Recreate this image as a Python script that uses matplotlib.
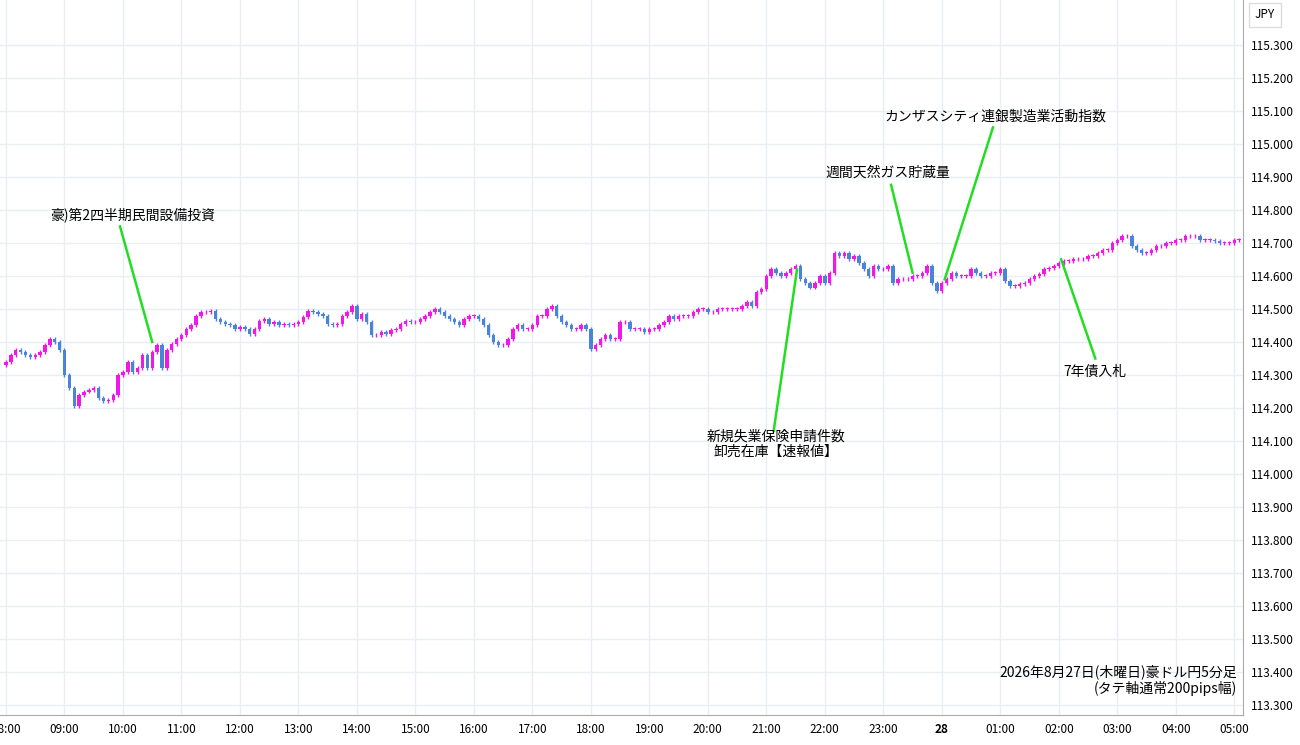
import matplotlib.pyplot as plt
import numpy as np

plt.rcParams['font.family'] = ['Noto Sans CJK JP', 'DejaVu Sans']

# 5-minute closes, 12 per hour, starting 08:00
closes = [
    114.34, 114.36, 114.375, 114.37, 114.36, 114.355, 114.36, 114.37, 114.39, 114.41, 114.40, 114.375,   # 08
    114.30, 114.26, 114.205, 114.24, 114.25, 114.255, 114.26, 114.23, 114.22, 114.225, 114.24, 114.30,   # 09
    114.31, 114.34, 114.31, 114.32, 114.36, 114.32, 114.37, 114.39, 114.32, 114.375, 114.395, 114.41,    # 10
    114.42, 114.44, 114.45, 114.48, 114.49, 114.49, 114.495, 114.47, 114.46, 114.455, 114.45, 114.44,    # 11
    114.445, 114.44, 114.425, 114.44, 114.465, 114.47, 114.455, 114.46, 114.45, 114.455, 114.45, 114.455,  # 12
    114.46, 114.475, 114.495, 114.49, 114.485, 114.48, 114.455, 114.45, 114.455, 114.48, 114.49, 114.51,   # 13
    114.47, 114.485, 114.46, 114.42, 114.42, 114.43, 114.425, 114.435, 114.44, 114.455, 114.465, 114.46,   # 14
    114.46, 114.47, 114.48, 114.49, 114.50, 114.49, 114.48, 114.47, 114.46, 114.45, 114.47, 114.48,       # 15
    114.48, 114.47, 114.45, 114.42, 114.40, 114.39, 114.39, 114.41, 114.44, 114.45, 114.44, 114.44,       # 16
    114.45, 114.48, 114.48, 114.50, 114.51, 114.48, 114.46, 114.45, 114.44, 114.44, 114.45, 114.44,       # 17
    114.38, 114.39, 114.41, 114.42, 114.41, 114.41, 114.46, 114.46, 114.44, 114.44, 114.44, 114.43,       # 18
    114.44, 114.44, 114.45, 114.46, 114.48, 114.47, 114.48, 114.48, 114.48, 114.49, 114.50, 114.50,       # 19
    114.49, 114.49, 114.50, 114.50, 114.50, 114.50, 114.50, 114.51, 114.52, 114.51, 114.55, 114.56,       # 20
    114.60, 114.62, 114.61, 114.60, 114.61, 114.62, 114.63, 114.59, 114.58, 114.565, 114.58, 114.60,      # 21
    114.58, 114.61, 114.67, 114.66, 114.67, 114.65, 114.66, 114.64, 114.62, 114.60, 114.63, 114.62,       # 22
    114.62, 114.63, 114.58, 114.59, 114.59, 114.59, 114.60, 114.60, 114.61, 114.63, 114.58, 114.555,      # 23
    114.58, 114.59, 114.61, 114.60, 114.60, 114.60, 114.62, 114.61, 114.60, 114.60, 114.61, 114.61,       # 00
    114.62, 114.585, 114.57, 114.57, 114.575, 114.58, 114.59, 114.60, 114.605, 114.62, 114.625, 114.63,   # 01
    114.64, 114.645, 114.645, 114.65, 114.65, 114.65, 114.66, 114.66, 114.67, 114.68, 114.68, 114.70,     # 02
    114.71, 114.72, 114.72, 114.69, 114.68, 114.67, 114.67, 114.68, 114.69, 114.69, 114.70, 114.70,       # 03
    114.71, 114.71, 114.72, 114.72, 114.72, 114.71, 114.71, 114.71, 114.705, 114.70, 114.70, 114.70,      # 04
    114.71, 114.71,                                                                                       # 05
]
first_open = 114.33
hour_labels = ['08:00', '09:00', '10:00', '11:00', '12:00', '13:00', '14:00', '15:00', '16:00',
               '17:00', '18:00', '19:00', '20:00', '21:00', '22:00', '23:00', '28', '01:00',
               '02:00', '03:00', '04:00', '05:00']
y_ticks = [113.3 + 0.1 * k for k in range(21)]

# events: (label, text x/y, line start, candle end) in (candle index, price)
events = [
    ('豪)第2四半期民間設備投資', (26.0, 114.785), (23.4, 114.75), (30.0, 114.40)),
    ('新規失業保険申請件数\n卸売在庫【速報値】', (158.0, 114.09), (157.5, 114.13), (162.3, 114.62)),
    ('週間天然ガス貯蔵量', (181.0, 114.912), (181.6, 114.876), (186.0, 114.61)),
    ('カンザスシティ連銀製造業活動指数', (203.0, 115.082), (202.5, 115.05), (192.6, 114.59)),
    ('7年債入札', (223.5, 114.31), (223.5, 114.35), (216.5, 114.65)),
]

UP = '#f018e8'
DOWN = '#4a84d8'
WICK = 0.006

fig = plt.figure(figsize=(13, 7.45), dpi=100)
ax = fig.add_axes([0, 30 / 745, 1243 / 1300, 715 / 745])

opens = [first_open] + closes[:-1]
for i, (o, c) in enumerate(zip(opens, closes)):
    col = UP if c >= o else DOWN
    lo, hi = min(o, c), max(o, c)
    ax.vlines(i, lo - WICK, hi + WICK, color=col, lw=1.0, zorder=3)
    ax.bar(i, max(hi - lo, 0.002), bottom=lo, width=0.7, color=col, zorder=4)

for label, txt, p0, p1 in events:
    ax.plot([p0[0], p1[0]], [p0[1], p1[1]], color='#22dd22', lw=1.8, zorder=5)
    ax.text(txt[0], txt[1], label, fontsize=10, ha='center', va='center', zorder=6,
            linespacing=1.15)

ax.set_xlim(-1.23, 253.8)
ax.set_ylim(113.270, 115.436)
ax.set_xticks(np.arange(len(hour_labels)) * 12)
ax.set_xticklabels(hour_labels, fontsize=8.5)
for t in ax.get_xticklabels():
    if t.get_text() == '28':
        t.set_fontweight('bold')
ax.set_yticks(y_ticks)
ax.set_yticklabels([f'{v:.3f}' for v in y_ticks], fontsize=8.5)
ax.yaxis.tick_right()
ax.tick_params(length=0, pad=6)
ax.grid(color='#e8eef3', lw=1)
for s in ['top', 'left']:
    ax.spines[s].set_visible(False)
ax.spines['right'].set_color('#aaaaaa')
ax.spines['bottom'].set_color('#aaaaaa')

fig.text(1265 / 1300, 1 - 15 / 745, 'JPY', fontsize=8.5, ha='center', va='center',
         bbox=dict(boxstyle='square,pad=0.5', fc='white', ec='#dddddd'))
ax.text(252.5, 113.375, '2026年8月27日(木曜日)豪ドル円5分足\n(タテ軸通常200pips幅)',
        fontsize=10, ha='right', va='center', linespacing=1.1, zorder=6)

fig.savefig('out.png')
